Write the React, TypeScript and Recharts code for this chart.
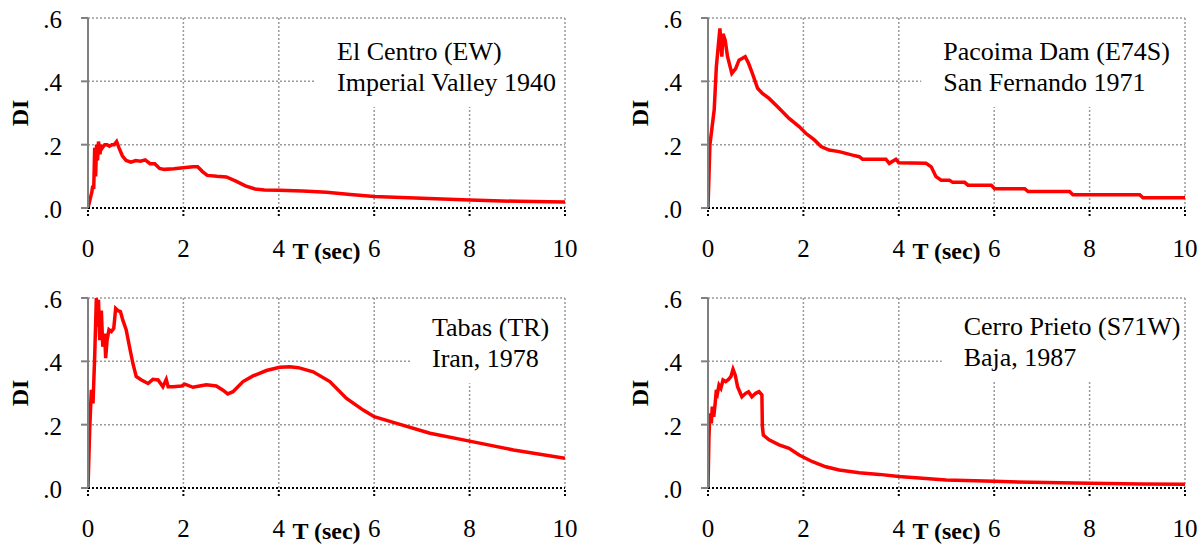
import {
    LineChart,
    Line,
    XAxis,
    YAxis,
    ReferenceLine,
    ReferenceArea,
} from "recharts";

// T (sec), DI pairs
const elCentro: [number, number][] = [
    [0, 0], [0.04, 0.025], [0.08, 0.05], [0.1, 0.07], [0.12, 0.06], [0.14, 0.19], [0.16, 0.1],
    [0.18, 0.2], [0.2, 0.15], [0.22, 0.21], [0.25, 0.17], [0.28, 0.2], [0.3, 0.19], [0.35, 0.2],
    [0.4, 0.2], [0.45, 0.195], [0.5, 0.2], [0.55, 0.2], [0.6, 0.21], [0.65, 0.19], [0.72, 0.165],
    [0.8, 0.15], [0.9, 0.145], [1.0, 0.15], [1.1, 0.148], [1.2, 0.152], [1.3, 0.14], [1.4, 0.14],
    [1.5, 0.125], [1.6, 0.122], [1.8, 0.124], [2.0, 0.127], [2.2, 0.13], [2.3, 0.13], [2.4, 0.115],
    [2.5, 0.103], [2.7, 0.1], [2.9, 0.098], [3.1, 0.085], [3.3, 0.07], [3.5, 0.06], [3.7, 0.057],
    [4.0, 0.056], [4.5, 0.054], [5.0, 0.05], [5.5, 0.043], [6.0, 0.036], [7.0, 0.031], [8.0, 0.025],
    [9.0, 0.021], [10, 0.019],
];

const pacoima: [number, number][] = [
    [0, 0], [0.04, 0.2], [0.13, 0.31], [0.175, 0.446], [0.22, 0.52], [0.25, 0.567], [0.29, 0.478],
    [0.315, 0.55], [0.36, 0.53], [0.41, 0.478], [0.5, 0.425], [0.58, 0.44], [0.65, 0.467],
    [0.78, 0.478], [0.85, 0.457], [0.93, 0.425], [1.04, 0.378], [1.14, 0.362], [1.28, 0.346],
    [1.49, 0.315], [1.7, 0.283], [1.91, 0.257], [2.05, 0.236], [2.23, 0.215], [2.37, 0.194],
    [2.54, 0.183], [2.75, 0.178], [3.03, 0.167], [3.17, 0.162], [3.24, 0.154], [3.73, 0.154],
    [3.8, 0.141], [3.94, 0.154], [4.0, 0.143], [4.57, 0.141], [4.68, 0.13], [4.78, 0.099],
    [4.89, 0.088], [5.06, 0.088], [5.13, 0.081], [5.38, 0.081], [5.45, 0.072], [5.94, 0.072],
    [6.01, 0.061], [6.64, 0.061], [6.71, 0.052], [7.58, 0.052], [7.65, 0.042], [9.05, 0.042],
    [9.12, 0.032], [10, 0.032],
];

const tabas: [number, number][] = [
    [0, 0], [0.035, 0.183], [0.07, 0.31], [0.105, 0.267], [0.14, 0.415], [0.175, 0.6], [0.196, 0.51],
    [0.22, 0.594], [0.245, 0.467], [0.28, 0.56], [0.31, 0.446], [0.35, 0.488], [0.37, 0.41],
    [0.4, 0.467], [0.44, 0.5], [0.49, 0.494], [0.54, 0.504], [0.58, 0.567], [0.63, 0.56],
    [0.68, 0.557], [0.73, 0.53], [0.8, 0.5], [0.87, 0.446], [0.94, 0.394], [1.01, 0.352],
    [1.12, 0.341], [1.26, 0.33], [1.36, 0.343], [1.47, 0.341], [1.57, 0.32], [1.64, 0.343],
    [1.68, 0.32], [1.78, 0.32], [1.96, 0.322], [2.03, 0.328], [2.2, 0.318], [2.34, 0.322],
    [2.48, 0.326], [2.69, 0.322], [2.83, 0.309], [2.93, 0.297], [3.04, 0.304], [3.25, 0.336],
    [3.46, 0.354], [3.74, 0.371], [4.02, 0.381], [4.23, 0.383], [4.41, 0.38], [4.72, 0.367],
    [5.07, 0.336], [5.42, 0.283], [5.77, 0.246], [6.0, 0.225], [6.47, 0.204], [7.17, 0.173],
    [8.0, 0.148], [8.92, 0.12], [10, 0.094],
];

const cerroPrieto: [number, number][] = [
    [0, 0], [0.02, 0.162], [0.04, 0.236], [0.07, 0.204], [0.09, 0.257], [0.12, 0.225], [0.15, 0.267],
    [0.175, 0.31], [0.2, 0.3], [0.23, 0.325], [0.27, 0.315], [0.315, 0.341], [0.37, 0.336],
    [0.43, 0.343], [0.48, 0.352], [0.525, 0.375], [0.57, 0.357], [0.62, 0.32], [0.71, 0.288],
    [0.79, 0.299], [0.85, 0.304], [0.92, 0.288], [1.0, 0.299], [1.07, 0.304], [1.13, 0.294],
    [1.14, 0.194], [1.16, 0.167], [1.28, 0.152], [1.49, 0.136], [1.7, 0.125], [1.91, 0.104],
    [2.19, 0.083], [2.47, 0.067], [2.75, 0.057], [3.17, 0.048], [3.59, 0.043], [4.0, 0.036],
    [4.99, 0.025], [6.0, 0.021], [7.09, 0.017], [8.0, 0.015], [9.05, 0.013], [10, 0.012],
];

const periodTicks = [0, 2, 4, 6, 8, 10];
const diTicks = [0, 0.2, 0.4, 0.6];
const periodGrid = [2, 4, 6, 8, 10];
const diGrid = [0.2, 0.4, 0.6];

const elCentroText = ["El Centro (EW)", "Imperial Valley 1940"];
const pacoimaText = ["Pacoima Dam (E74S)", "San Fernando 1971"];
const tabasText = ["Tabas (TR)", "Iran, 1978"];
const cerroPrietoText = ["Cerro Prieto (S71W)", "Baja, 1987"];

const FONT = "'Liberation Serif', 'Times New Roman', serif";
const GRID = "#9a9a9a";
const BOX_RIGHT = 9.9;
const BOX_TOP = 0.585;

function PeriodTick({ x, y, payload }: any) {
    return (
        <text x={x} y={y + 41} textAnchor="middle" fontSize={25} fontFamily={FONT} fill="#000">
            {payload.value}
        </text>
    );
}

function DiTick({ x, y, payload }: any) {
    return (
        <text x={x - 19} y={y + 10} textAnchor="end" fontSize={25} fontFamily={FONT} fill="#000">
            {Number(payload.value).toFixed(1).replace(/^0/, "")}
        </text>
    );
}

interface PanelProps {
    data: [number, number][];
    text: string[];
    boxX: number;
    boxY: number;
    left: number;
    top: number;
}

function Panel({ data, text, boxX, boxY, left, top }: PanelProps) {
    const rows = data.map(([t, di]) => ({ t, di }));
    // grid lines stop where the white caption box sits
    const vLines = periodGrid.map((v) => {
        const cut = v > boxX && v < BOX_RIGHT;
        return [{ x: v, y: 0 }, { x: v, y: cut ? boxY : 0.6 }];
    });
    const hLines = diGrid.map((v) => {
        const cut = v > boxY && v < BOX_TOP;
        return [{ x: 0, y: v }, { x: cut ? boxX : 10, y: v }];
    });
    return (
        <div style={{ position: "absolute", left, top }}>
            <LineChart
                width={583}
                height={268}
                data={rows}
                margin={{ top: 18, right: 18, bottom: 10, left: 0 }}
            >
                <XAxis
                    type="number"
                    dataKey="t"
                    domain={[0, 10]}
                    ticks={periodTicks}
                    allowDataOverflow
                    height={50}
                    tickSize={8}
                    tickMargin={0}
                    axisLine={{ stroke: "#000", strokeWidth: 2, strokeDasharray: "2 2" }}
                    tickLine={{ stroke: "#000", strokeWidth: 2, strokeDasharray: "2 2" }}
                    tick={<PeriodTick />}
                    label={(p: any) => {
                        const vb = p.viewBox || { x: 88, y: 208, width: 477 };
                        return (
                            <text
                                x={vb.x + vb.width / 2}
                                y={vb.y + 51}
                                textAnchor="middle"
                                fontSize={24}
                                fontWeight="bold"
                                fontFamily={FONT}
                                fill="#000"
                            >
                                T (sec)
                            </text>
                        );
                    }}
                />
                <YAxis
                    type="number"
                    domain={[0, 0.6]}
                    ticks={diTicks}
                    allowDataOverflow
                    width={88}
                    tickSize={7}
                    tickMargin={0}
                    axisLine={{ stroke: "#808080", strokeWidth: 2 }}
                    tickLine={{ stroke: "#808080", strokeWidth: 2 }}
                    tick={<DiTick />}
                    label={(p: any) => {
                        const vb = p.viewBox || { x: 0, y: 18, height: 190 };
                        const cx = vb.x + 28;
                        const cy = vb.y + vb.height / 2;
                        return (
                            <text
                                x={cx}
                                y={cy}
                                transform={`rotate(-90 ${cx} ${cy})`}
                                textAnchor="middle"
                                fontSize={24}
                                fontWeight="bold"
                                fontFamily={FONT}
                                fill="#000"
                            >
                                DI
                            </text>
                        );
                    }}
                />
                {hLines.map((seg, i) => (
                    <ReferenceLine key={"h" + i} segment={seg} stroke={GRID} strokeWidth={1.5} strokeDasharray="2 2" />
                ))}
                {vLines.map((seg, i) => (
                    <ReferenceLine key={"v" + i} segment={seg} stroke={GRID} strokeWidth={1.5} strokeDasharray="2 2" />
                ))}
                <ReferenceArea
                    x1={boxX}
                    x2={BOX_RIGHT}
                    y1={boxY}
                    y2={BOX_TOP}
                    fill="#fff"
                    fillOpacity={0}
                    stroke="none"
                    label={(p: any) => {
                        const vb = p.viewBox;
                        if (!vb) return null;
                        const bottom = vb.y + vb.height;
                        return (
                            <g fontSize={26} fontFamily={FONT} fill="#000">
                                <text x={vb.x + 22} y={bottom - 47}>{text[0]}</text>
                                <text x={vb.x + 22} y={bottom - 16}>{text[1]}</text>
                            </g>
                        );
                    }}
                />
                <Line
                    type="linear"
                    dataKey="di"
                    stroke="#ff0000"
                    strokeWidth={3.5}
                    dot={false}
                    activeDot={false}
                    isAnimationActive={false}
                />
            </LineChart>
        </div>
    );
}

export default function App() {
    return (
        <div style={{ position: "absolute", left: 0, top: 0, width: 1203, height: 548, background: "#fff" }}>
            <style>{"html,body{margin:0;overflow:hidden}"}</style>
            <Panel data={elCentro} text={elCentroText} boxX={4.76} boxY={0.319} left={0} top={0} />
            <Panel data={pacoima} text={pacoimaText} boxX={4.47} boxY={0.319} left={620} top={0} />
            <Panel data={tabas} text={tabasText} boxX={6.75} boxY={0.331} left={0} top={280} />
            <Panel data={cerroPrieto} text={cerroPrietoText} boxX={4.9} boxY={0.336} left={620} top={280} />
        </div>
    );
}
